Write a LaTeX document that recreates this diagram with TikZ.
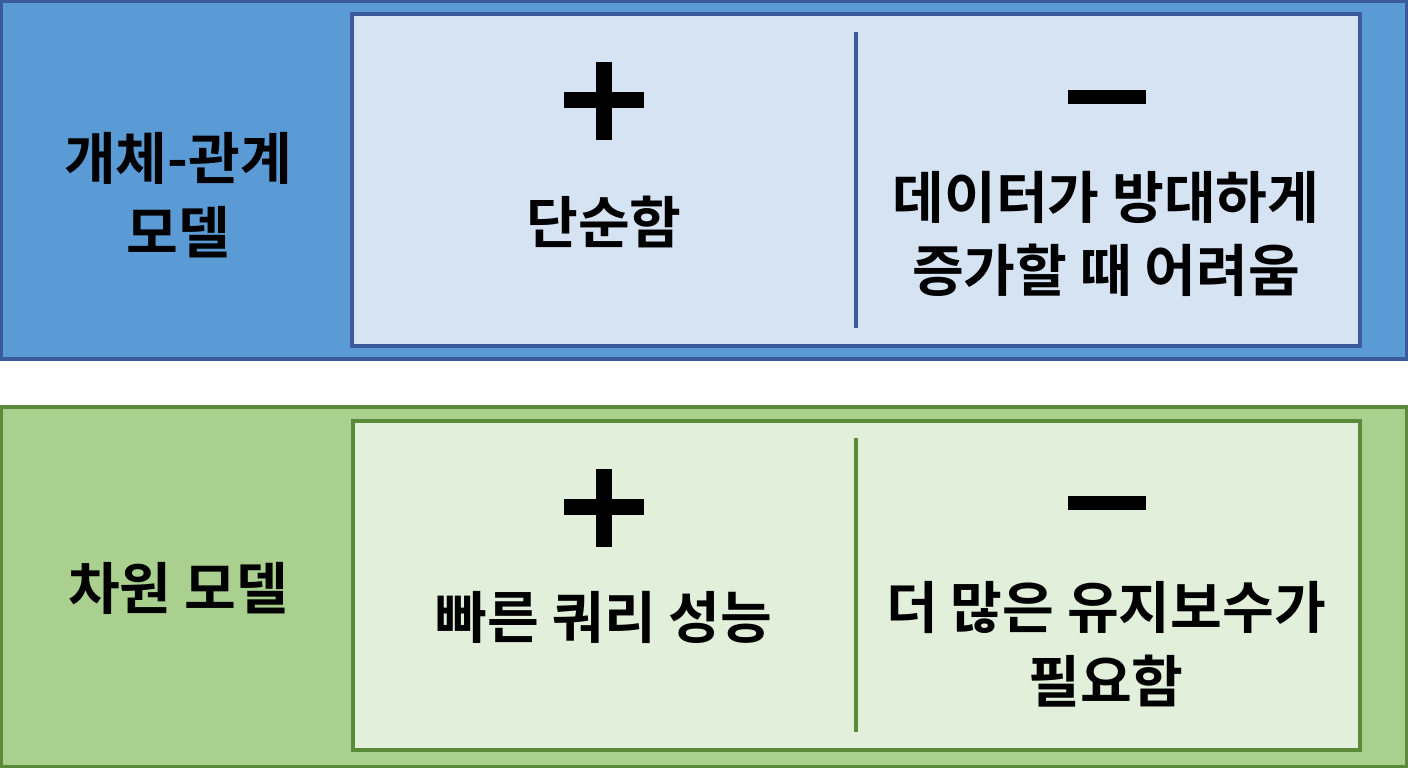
\documentclass[tikz,border=0pt]{standalone}
\usepackage{fontspec}
\setmainfont{Noto Sans CJK KR}[BoldFont={* Bold}]
\usetikzlibrary{positioning}
\definecolor{bandblue}{HTML}{5B9BD5}
\definecolor{lineblue}{HTML}{3A5A9A}
\definecolor{cellblue}{HTML}{D6E3F3}
\definecolor{bandgreen}{HTML}{A9D08E}
\definecolor{linegreen}{HTML}{5A8A3A}
\definecolor{cellgreen}{HTML}{E2EFDA}
\tikzset{
  lbl/.style={align=center, font=\fontsize{16}{21}\selectfont\bfseries, text=black},
  txt/.style={align=center, font=\fontsize{16}{21}\selectfont\bfseries, text=black},
  sign/.style={fill=black, draw=none}
}
\begin{document}
\begin{tikzpicture}[x=0.01cm, y=-0.01cm]
\useasboundingbox (0,0) rectangle (1408,768);
% top band
\draw[fill=bandblue, draw=lineblue, line width=1.2pt] (1,1) rectangle (1407,359);
\draw[fill=cellblue, draw=lineblue, line width=1.2pt] (352,14) rectangle (1360,346);
\draw[lineblue, line width=1pt] (856,32) -- (856,328);
\node[lbl] (er) at (178,195) {개체-관계\\모델};
\fill[sign] (564,92) rectangle (644,108);
\fill[sign] (596,62) rectangle (612,140);
\fill[sign] (1068,90) rectangle (1146,104);
\node[txt] (erplus) at (604,222) {단순함};
\node[txt] (erminus) at (1106,234) {데이터가 방대하게\\증가할 때 어려움};
% bottom band
\draw[fill=bandgreen, draw=linegreen, line width=1.2pt] (1,407) rectangle (1407,767);
\draw[fill=cellgreen, draw=linegreen, line width=1.2pt] (353,421) rectangle (1360,750);
\draw[linegreen, line width=1pt] (856,438) -- (856,732);
\node[lbl] (dm) at (178,588) {차원 모델};
\fill[sign] (564,499) rectangle (644,515);
\fill[sign] (596,469) rectangle (612,547);
\fill[sign] (1068,496) rectangle (1146,510);
\node[txt] (dmplus) at (604,617) {빠른 쿼리 성능};
\node[txt] (dmminus) at (1106,644) {더 많은 유지보수가\\필요함};
\end{tikzpicture}
\end{document}
